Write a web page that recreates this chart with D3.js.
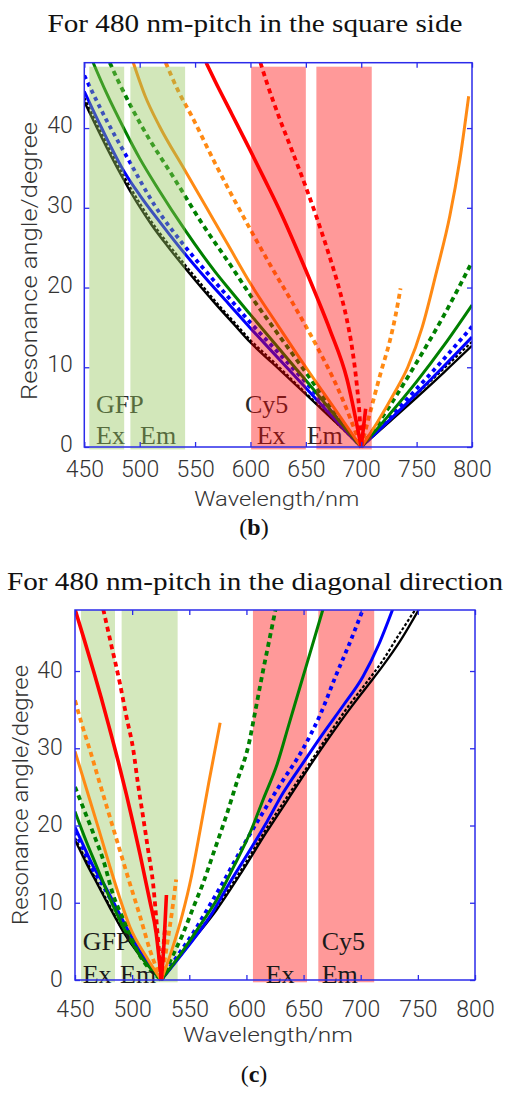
<!DOCTYPE html>
<html><head><meta charset="utf-8">
<script src="https://cdn.jsdelivr.net/npm/d3@7"></script>
<style>
html,body{margin:0;padding:0;background:#fff;}
svg{display:block;}
</style></head>
<body>
<svg id="chart" width="505" height="1093"></svg>
<script>
// ---------------- DATA ----------------
const xTicks = [450, 500, 550, 600, 650, 700, 750, 800];
const yTicks = [0, 10, 20, 30, 40];

// Panel (b): 480 nm pitch, square side  [wavelength nm, angle deg]
const sqBlack     = [[450,43.3],[470,37.6],[486,33.4],[500,30.1],[510,28],[525,25.2],[540,22.6],[555,20.1],[570,17.7],[585,15.4],[600,13.1],[620,10.5],[640,7.9],[660,5.3],[680,2.7],[700,0],[725,3.1],[750,6.2],[775,9.4],[800,12.7]];
const sqBlackDash = [[450,43.8],[470,38.1],[486,33.9],[500,30.6],[510,28.4],[525,25.6],[540,23],[555,20.5],[570,18],[585,15.7],[600,13.4],[620,10.8],[640,8.1],[660,5.4],[680,2.7],[700,0],[725,3.3],[750,6.6],[775,9.9],[800,13.2]];
const sqBlue      = [[450,44.6],[465,40.2],[487,34.3],[500,31.6],[520,27.9],[541,24.2],[560,21.1],[580,18],[600,14.9],[620,11.9],[640,8.9],[660,5.9],[680,2.9],[700,0],[725,3.3],[750,6.7],[775,10.2],[800,13.8]];
const sqBlueDash  = [[450,46.6],[470,41],[490,36],[514,30.2],[540,25.3],[560,22],[580,18.8],[600,15.6],[620,12.6],[650,8.1],[675,4.1],[700,0],[725,3.6],[750,7.3],[775,11.1],[800,15.1]];
const sqGreen     = [[458,48.2],[470,44.4],[487,39.6],[500,36.2],[517,32.3],[541,27.2],[568,22],[582,19.6],[600,16.6],[620,13.3],[640,10],[660,6.7],[680,3.3],[700,0],[725,4],[750,8.2],[775,12.8],[800,17.8]];
const sqGreenDash = [[473,48.2],[481,45.8],[502,40.2],[532,33.5],[556,28.1],[583,22.6],[603,18.4],[620,15.1],[642,10.9],[660,7.4],[680,3.5],[700,0],[725,5],[750,10.6],[775,16.6],[800,23.2]];
const sqOrange    = [[494,48.3],[505,44],[518,40.2],[540,34.9],[560,30.1],[580,25.3],[600,20.5],[625,15.2],[650,10],[675,5],[700,0],[715,3.2],[730,6.8],[742,10],[755,15],[768,22],[780,29],[789,36],[797,44]];
const sqOrangeDash= [[523.5,48.2],[535,44.6],[547,41.5],[568,35.6],[592,29.3],[618,22.8],[640,17.6],[660,12.6],[680,7],[700,0],[711,5.9],[718,9.5],[726,13.4],[731,16.5],[735.5,19.9]];
const sqRed       = [[560,48.2],[568,45.9],[583,41.8],[598,37.7],[613,33.5],[628,29.2],[645,23.8],[660,18.8],[672,14.6],[687,8.6],[700,0],[704,4.8]];
const sqRedDash   = [[609,48.2],[615,45.6],[626,41.3],[638,37],[650,32.6],[660,28.7],[670,24.5],[680,19.9],[687,16],[692,12.2],[696,7.8],[698.5,4],[700,0],[702.5,3.2]];
const sqBands     = [[454.5,486],[491.6,541],[600.6,650],[659.5,709.5]];

// Panel (c): 480 nm pitch, diagonal direction
const dgBlack     = [[450,18.1],[460,15.1],[470,12.3],[480,9.5],[492,6.3],[505,3.5],[515,1.7],[525.5,0],[550,4.6],[574,9.1],[596,14],[617,19],[636,23.3],[655,27.6],[673,31.5],[690,35],[705,37.9],[719,40.6],[735,44],[751,48]];
const dgBlackDash = [[450,18.4],[460,15.4],[470,12.5],[480,9.7],[492,6.4],[505,3.6],[515,1.8],[525.5,0],[550,4.7],[574,9.4],[596,14.4],[617,19.5],[636,23.8],[655,28],[673,32],[690,35.6],[705,38.5],[719,41.3],[733,44.6],[748,48]];
const dgBlue      = [[450,19.8],[458,17.2],[466,14.7],[475,12.5],[486,9.4],[498,6],[512,2.6],[525.5,0],[547,4],[568,8.2],[585,12.5],[603,16.8],[618,20.5],[632,24.2],[650,28.2],[667,31.9],[685,35.6],[702,39.3],[716,43.5],[728,48]];
const dgBlueDash  = [[450,19.2],[458,16.7],[466,14.2],[475,12.1],[486,9.1],[498,5.8],[512,2.5],[525.5,0],[540,3.2],[553,6],[566,9.2],[579,12.5],[595,16.8],[612,21.1],[630,25.4],[649,29.8],[665,34.5],[678,39.3],[690,43.5],[702,48]];
const dgGreen     = [[450,21.8],[460,17.9],[469,14.7],[479,11.1],[489,7.8],[505,3.6],[525.5,0],[545,3.9],[560,7.2],[574,10.4],[589,14.7],[603,19],[615,23.5],[627,28],[637,33],[647,38],[657,43],[667,48]];
const dgGreenDash = [[450,25],[458,22],[466,19],[475,15.4],[483,11.2],[494,7.3],[504,3.9],[525.5,0],[535,3],[544.5,6],[553,9.2],[562,12.5],[572,16.8],[582,21.1],[592,25.8],[602,30.5],[608,35],[614.5,40],[620,44],[625.5,48]];
const dgOrange    = [[450,29.6],[456,26.7],[463,23.3],[471,19.4],[480.5,14.7],[489,10.7],[498,6.9],[512,3.1],[525.5,0],[535,4],[544,8.5],[552,13.5],[559,19],[567,25.5],[577,33.3]];
const dgOrangeDash= [[450,36.2],[456,33.1],[463,29.8],[471,25.8],[480.5,21.1],[489,16.9],[498,12.5],[507,8.2],[515.5,3.9],[525.5,0],[531,5],[535,9],[538.5,13]];
const dgRed       = [[450,48],[458,44.1],[466,40.1],[473,36.5],[480.5,32.4],[488,28.2],[495,24],[501,20.2],[507,16.2],[515.5,10.2],[521,6.1],[525.5,0],[528,5],[530,11]];
const dgRedDash   = [[474.7,48],[482,43.2],[489.3,38.4],[495,34.1],[501,29.8],[505,25.5],[509.6,21.1],[514,16.8],[518.3,12.5],[522,6.4],[525.5,0],[527,3.5],[529,7]];
const dgBands     = [[455.3,485],[490.8,539.8],[605.7,653],[662.9,711.8]];

const titles = ["For 480 nm-pitch in the square side", "For 480 nm-pitch in the diagonal direction"];
const panelTags = ["b", "c"];
const xLabel = "Wavelength/nm";
const yLabel = "Resonance angle/degree";

// ---------------- STYLES / LAYOUT ----------------
const styles = {
  black:{c:"#000000", w:2.3, dash:null},
  blackDash:{c:"#000000", w:2.2, dash:"3,2"},
  blue:{c:"#0000ff", w:3, dash:null},
  blueDash:{c:"#0000ff", w:3.8, dash:"4,4"},
  green:{c:"#008000", w:3, dash:null},
  greenDash:{c:"#008000", w:3.8, dash:"5,4"},
  orange:{c:"#ff8a14", w:3, dash:null},
  orangeDash:{c:"#ff8a14", w:3.8, dash:"5,4"},
  red:{c:"#ff0000", w:3.6, dash:null},
  redDash:{c:"#ff0000", w:3.8, dash:"5,4"}
};
const bandFill = ["green","green","red","red"];

const panels = [
  { series:[["black",sqBlack],["blackDash",sqBlackDash],["blue",sqBlue],["blueDash",sqBlueDash],["green",sqGreen],["greenDash",sqGreenDash],["orange",sqOrange],["orangeDash",sqOrangeDash],["red",sqRed],["redDash",sqRedDash]],
    bands:sqBands, bandTop:47.7, overlay:true,
    L:84.3, R:472, T:62.7, B:447, ymax:48.2,
    titleY:32.3, titleW:415, tagY:535, xlabY:506, xlabX:276.7, xlabW:165,
    ylabX:37, ylabY:261, ylabW:278, yTickDx:-11.6, xTickY:29.5, yTickDy:"0.2em",
    texts:[["GFP",96,412.7],["Ex",96,444.3],["Em",140,444.3],["Cy5",245,412.7],["Ex",256.7,444.3],["Em",306.7,444.3]] },
  { series:[["black",dgBlack],["blackDash",dgBlackDash],["blue",dgBlue],["blueDash",dgBlueDash],["green",dgGreen],["greenDash",dgGreenDash],["orange",dgOrange],["orangeDash",dgOrangeDash],["red",dgRed],["redDash",dgRedDash]],
    bands:dgBands, bandTop:48, overlay:false,
    L:75, R:475, T:610, B:980, ymax:47.9,
    titleY:590, titleW:496, tagY:1082, xlabY:1042, xlabX:268, xlabW:170,
    ylabX:28, ylabY:795, ylabW:260, yTickDx:-12.3, xTickY:36.5, yTickDy:"0.28em",
    texts:[["GFP",82.7,950],["Ex",82.7,983],["Em",120,983],["Cy5",321.7,950],["Ex",265.7,983],["Em",321.7,983]] }
];

const svg = d3.select("#chart");
const frameColor = "#2b2bea";
const tickFont = "Roboto, 'Liberation Sans', Arial, sans-serif";
const serif = "'Liberation Serif', 'Times New Roman', serif";

panels.forEach((p, pi) => {
  const x = d3.scaleLinear().domain([450, 800]).range([p.L, p.R]);
  const y = d3.scaleLinear().domain([0, p.ymax]).range([p.B, p.T]);
  const g = svg.append("g");

  // title
  g.append("text").attr("x", 255).attr("y", p.titleY).attr("text-anchor","middle")
    .attr("font-family", serif).attr("font-size", 25).attr("fill","#111")
    .attr("textLength", p.titleW).attr("lengthAdjust","spacingAndGlyphs")
    .text(titles[pi]);

  const clipId = "clip" + pi;
  svg.append("defs").append("clipPath").attr("id", clipId)
    .append("rect").attr("x", p.L).attr("y", p.T).attr("width", p.R - p.L).attr("height", p.B - p.T + 4);

  const plot = g.append("g").attr("clip-path", `url(#${clipId})`);

  const bandColorsSolid = {green:"#d4e8bd", red:"#ff9999"};
  const bandColorsOverlay = {green:"rgba(148,198,90,0.42)", red:"rgba(255,0,0,0.4)"};

  function drawBands(layer, colors){
    layer.selectAll("rect.band").data(p.bands).join("rect").attr("class","band")
      .attr("x", d => x(d[0])).attr("width", d => x(d[1]) - x(d[0]))
      .attr("y", y(p.bandTop)).attr("height", y(-0.3) - y(p.bandTop))
      .attr("fill", (d,i) => colors[bandFill[i]]);
  }
  function drawTexts(layer, fill){
    layer.selectAll("text.lab").data(p.texts).join("text").attr("class","lab")
      .attr("x", d => d[1]).attr("y", d => d[2])
      .attr("font-family", serif).attr("font-size", 26).attr("fill", fill)
      .text(d => d[0]);
  }

  if (!p.overlay) drawBands(plot, bandColorsSolid);

  const line = d3.line().x(d => x(d[0])).y(d => y(d[1])).curve(d3.curveMonotoneX);
  p.series.forEach(([key, pts]) => {
    const st = styles[key];
    let iv = 0;
    pts.forEach((d,i) => { if (d[1] < pts[iv][1]) iv = i; });
    const branches = [pts.slice(0, iv + 1), pts.slice(iv)].filter(b => b.length > 1);
    branches.forEach(b => {
      plot.append("path").attr("d", line(b)).attr("fill","none")
        .attr("stroke", st.c).attr("stroke-width", st.w)
        .attr("stroke-dasharray", st.dash)
        .attr("stroke-linejoin","round");
    });
  });

  if (p.overlay) {
    drawTexts(g, "#2a2a2a");
    drawBands(g, bandColorsOverlay);
  } else {
    drawTexts(g, "#1a1a1a");
  }

  // axes (inward ticks on all sides)
  const axB = d3.axisBottom(x).tickValues(xTicks).tickSizeInner(-5).tickSizeOuter(0);
  const axT = d3.axisTop(x).tickValues(xTicks).tickSizeInner(-5).tickSizeOuter(0).tickFormat("");
  const axL = d3.axisLeft(y).tickValues(yTicks).tickSizeInner(-5).tickSizeOuter(0);
  const axR = d3.axisRight(y).tickValues(yTicks).tickSizeInner(-5).tickSizeOuter(0).tickFormat("");

  const gb = g.append("g").attr("transform", `translate(0,${p.B})`).call(axB);
  const gt = g.append("g").attr("transform", `translate(0,${p.T})`).call(axT);
  const gl = g.append("g").attr("transform", `translate(${p.L},0)`).call(axL);
  const gr = g.append("g").attr("transform", `translate(${p.R},0)`).call(axR);
  [gb, gt, gl, gr].forEach(a => {
    a.select(".domain").remove();
    a.selectAll(".tick line").attr("stroke", frameColor).attr("stroke-width", 1.3);
  });
  gb.selectAll(".tick text").attr("y", p.xTickY).attr("dy", 0)
    .attr("font-family", tickFont).attr("font-weight", 300).attr("font-size", 23).attr("fill", "#333");
  gl.selectAll(".tick text").attr("x", p.yTickDx).attr("dy", p.yTickDy)
    .attr("font-family", tickFont).attr("font-weight", 300).attr("font-size", 23).attr("fill", "#333");

  // frame
  g.append("rect").attr("x", p.L).attr("y", p.T).attr("width", p.R - p.L).attr("height", p.B - p.T)
    .attr("fill","none").attr("stroke", frameColor).attr("stroke-width", 1.5);

  // axis labels
  g.append("text").attr("x", p.xlabX).attr("y", p.xlabY).attr("text-anchor","middle")
    .attr("font-family", tickFont).attr("font-weight", 300).attr("font-size", 21).attr("fill","#333")
    .attr("textLength", p.xlabW).attr("lengthAdjust","spacingAndGlyphs").text(xLabel);
  g.append("text").attr("transform", `translate(${p.ylabX},${p.ylabY}) rotate(-90)`)
    .attr("text-anchor","middle")
    .attr("font-family", tickFont).attr("font-weight", 300).attr("font-size", 22).attr("fill","#333")
    .attr("textLength", p.ylabW).attr("lengthAdjust","spacingAndGlyphs").text(yLabel);

  // panel tag
  const tag = g.append("text").attr("x", 254).attr("y", p.tagY).attr("text-anchor","middle")
    .attr("font-family", serif).attr("font-size", 24).attr("fill","#111");
  tag.append("tspan").text("(");
  tag.append("tspan").attr("font-weight","bold").text(panelTags[pi]);
  tag.append("tspan").text(")");
});
</script>
</body></html>
